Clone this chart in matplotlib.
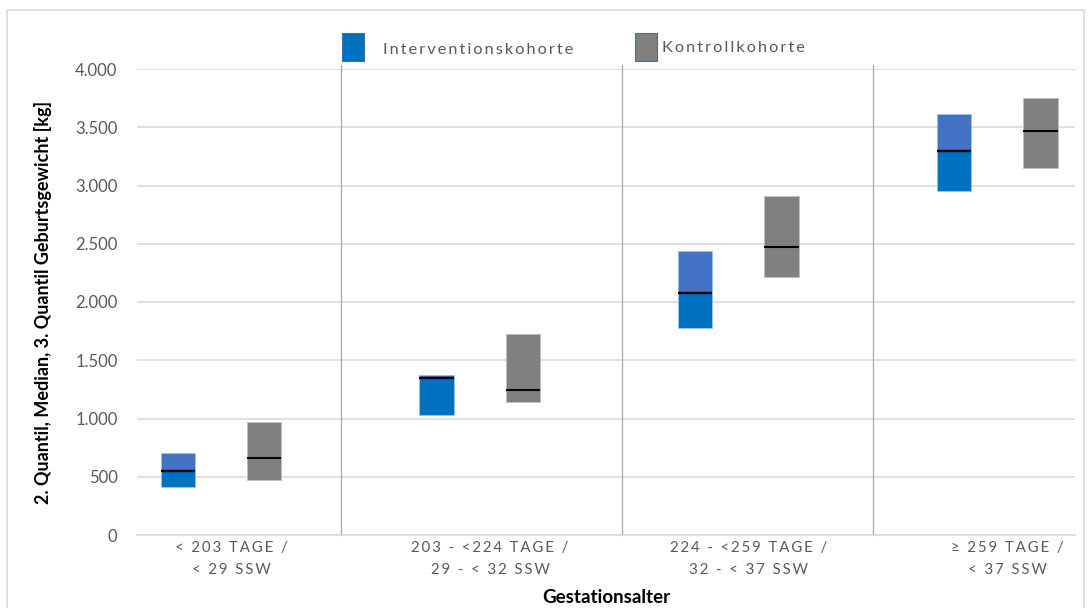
import matplotlib
matplotlib.use("Agg")
import matplotlib.pyplot as plt
from matplotlib.patches import Rectangle
from matplotlib.ticker import FuncFormatter

plt.rcParams['font.family'] = ['Lato', 'DejaVu Sans']

# Gestationsalter-Gruppen
kategorien = ["< 203 TAGE /\n< 29 SSW",
              "203 - <224 TAGE /\n29 - < 32 SSW",
              "224 - <259 TAGE /\n32 - < 37 SSW",
              "\u2265 259 TAGE /\n< 37 SSW"]

# Geburtsgewicht in g: 1. Quartil, Median, 3. Quartil
int_q1 = [412, 1027, 1774, 2955]
int_med = [552, 1350, 2075, 3296]
int_q3 = [701, 1373, 2438, 3611]

kon_q1 = [475, 1139, 2212, 3148]
kon_med = [661, 1247, 2472, 3470]
kon_q3 = [967, 1722, 2910, 3751]

# Trennlinien zwischen den Gruppen (in Kategorie-Einheiten)
trenner = [0.464, 1.55, 2.52]

BLAU_UNTEN = '#0070C0'
BLAU_OBEN = '#4472C4'
GRAU = '#808080'
TEXT = '#595959'


def gesperrt(s):
    # Zeichen mit schmalem Abstand auseinanderziehen
    return '\u2009'.join(s)


W, H = 1091, 608
fig = plt.figure(figsize=(W / 100, H / 100), dpi=100)
ax = fig.add_axes([137 / W, (H - 535) / H, (1075 - 137) / W, (535 - 69) / H])

x = list(range(len(kategorien)))
off = 0.167
bw = 0.133
xi = [v - off for v in x]
xk = [v + off for v in x]

# Intervention: unteres und oberes Quartil gestapelt
ax.bar(xi, [m - a for a, m in zip(int_q1, int_med)], bw, bottom=int_q1,
       color=BLAU_UNTEN, edgecolor='#9DC3E6', linewidth=0.6, zorder=3)
ax.bar(xi, [b - m for m, b in zip(int_med, int_q3)], bw, bottom=int_med,
       color=BLAU_OBEN, edgecolor='#9DC3E6', linewidth=0.6, zorder=3)
# Kontrolle
ax.bar(xk, [m - a for a, m in zip(kon_q1, kon_med)], bw, bottom=kon_q1,
       color=GRAU, edgecolor='#BFBFBF', linewidth=0.6, zorder=3)
ax.bar(xk, [b - m for m, b in zip(kon_med, kon_q3)], bw, bottom=kon_med,
       color=GRAU, edgecolor='#BFBFBF', linewidth=0.6, zorder=3)

# Medianlinien
ax.hlines(int_med, [v - bw / 2 for v in xi], [v + bw / 2 for v in xi],
          color='black', linewidth=1.7, zorder=4)
ax.hlines(kon_med, [v - bw / 2 for v in xk], [v + bw / 2 for v in xk],
          color='black', linewidth=1.5, zorder=4)

for t in trenner:
    ax.plot([t, t], [0, 4035], color='#A6A6A6', linewidth=0.9,
            clip_on=False, zorder=2)

ax.set_xlim(-0.325, 3.301)
ax.set_ylim(0, 4000)
ax.set_yticks(range(0, 4001, 500))
ax.yaxis.set_major_formatter(FuncFormatter(lambda v, p: f"{int(v):,}".replace(',', '.')))
ax.grid(axis='y', color='#D9D9D9', linewidth=1.2, zorder=0)
ax.set_axisbelow(True)
for s in ['top', 'right', 'left']:
    ax.spines[s].set_visible(False)
ax.spines['bottom'].set_color('#D9D9D9')
ax.spines['bottom'].set_linewidth(1.2)
ax.tick_params(axis='y', length=0, pad=14, labelsize=12, labelcolor=TEXT)
ax.tick_params(axis='x', length=0, pad=4, labelsize=10.8, labelcolor=TEXT)
ax.set_xticks([v + 0.04 for v in x])
ax.set_xticklabels([gesperrt(k).replace('\u2009\n\u2009', '\n') for k in kategorien],
                   linespacing=1.75)

ax.set_ylabel("2. Quantil, Median, 3. Quantil Geburtsgewicht [kg]",
              fontsize=13, fontweight='bold', color='black')
ax.yaxis.set_label_coords(-0.091, 0.5)
ax.set_xlabel("Gestationsalter", fontsize=13.5, fontweight='bold', color='black',
              labelpad=9)

# Legende oben, von Hand gesetzt
fig.add_artist(Rectangle((342 / W, 1 - 61 / H), 22 / W, 28 / H,
                         transform=fig.transFigure, facecolor=BLAU_UNTEN,
                         edgecolor='#2E75B6', linewidth=0.8))
fig.text(383 / W, 1 - 50 / H, gesperrt("Interventionskohorte"), fontsize=11.8,
         color=TEXT, va='center', ha='left')
fig.add_artist(Rectangle((635 / W, 1 - 61 / H), 22 / W, 28 / H,
                         transform=fig.transFigure, facecolor=GRAU,
                         edgecolor='#2E75B6', linewidth=0.8))
fig.text(662 / W, 1 - 48 / H, gesperrt("Kontrollkohorte"), fontsize=11.8,
         color=TEXT, va='center', ha='left')

# Rahmen um die Grafik
fig.add_artist(Rectangle((7 / W, -0.02), (1084 - 7) / W, 1 - 10 / H + 0.02,
                         transform=fig.transFigure, fill=False,
                         edgecolor='#D9D9D9', linewidth=1.2))

fig.savefig("out.png", dpi=100)
